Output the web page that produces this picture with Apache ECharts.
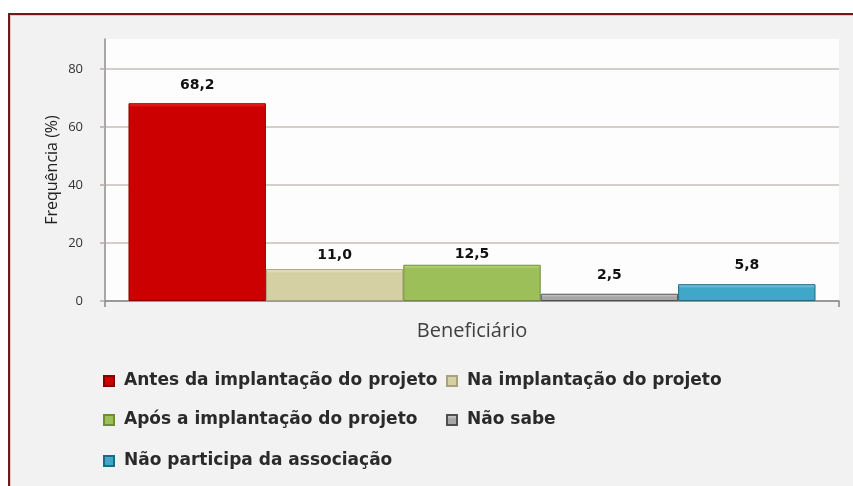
<!DOCTYPE html>
<html>
<head>
<meta charset="utf-8">
<title>Frequência - Beneficiário</title>
<script src="https://cdn.jsdelivr.net/npm/echarts@6/dist/echarts.min.js"></script>
<style>
  html, body { margin: 0; padding: 0; background: #ffffff; width: 853px; height: 486px; overflow: hidden; }
  #frame {
    position: absolute; left: 8px; top: 13px; width: 900px; height: 520px;
    background: #f2f2f2;
    border-left: 2px solid #6d1c1c; border-top: 2px solid #6d1c1c;
    box-shadow: inset 1px 1px 0 #e3c4c4;
  }
  #chart { position: absolute; left: 0; top: 0; width: 853px; height: 486px; }
</style>
</head>
<body>
<div id="frame"></div>
<div id="chart"></div>
<script>
// dados
const categories = ['Beneficiário']
const seriesNames = [
  'Antes da implantação do projeto',
  'Na implantação do projeto',
  'Após a implantação do projeto',
  'Não sabe',
  'Não participa da associação',
]
const seriesValues = [68.2, 11.0, 12.5, 2.5, 5.8]
const yTicks = [0, 20, 40, 60, 80]

// estilo
const font = 'Open Sans'
const wideFont = 'DejaVu Sans'
const colors = ['#cc0000', '#d5cfa4', '#9dbf5a', '#a6a6a6', '#3fa8c9']
const topColors = ['#ff3030', '#eeeacb', '#bfdb85', '#d9d9d9', '#86d3ec']
const edgeColors = ['#8a0000', '#a9a37d', '#6d8d37', '#4f4f4f', '#1c6a83']
const labelDistances = [11, 7, 3, 11, 12]
const legendPos = [[103, 371], [446, 371], [103, 410], [446, 410], [103, 451]]

const chart = echarts.init(document.getElementById('chart'))

const option = {
  animation: false,
  grid: [
    { left: 105, right: 14, top: 69, bottom: 185 },
    { left: 105, right: 14, top: 39, bottom: 185, show: true, backgroundColor: '#fdfdfd', borderWidth: 0, z: -1 },
  ],
  xAxis: [
    {
      type: 'category',
      gridIndex: 0,
      data: categories,
      axisLine: { lineStyle: { color: '#878787', width: 1.5 } },
      axisTick: { show: true, length: 6, lineStyle: { color: '#878787', width: 1.5 } },
      axisLabel: { fontFamily: font, fontSize: 20, color: '#404040', margin: 20 },
    },
    { type: 'category', gridIndex: 1, data: categories, show: false },
  ],
  yAxis: [
    {
      type: 'value',
      gridIndex: 0,
      min: yTicks[0],
      max: yTicks[yTicks.length - 1],
      interval: yTicks[1] - yTicks[0],
      axisLine: { show: false },
      axisTick: { show: true, length: 5, lineStyle: { color: '#b9a9a9', width: 1.5 } },
      splitLine: { lineStyle: { color: '#c9bcbc', width: 1.5 } },
      axisLabel: { fontFamily: font, fontSize: 13, color: '#333', margin: 22 },
    },
    {
      type: 'value',
      gridIndex: 1,
      min: 0,
      max: 1,
      axisLine: { show: true, lineStyle: { color: '#8c8c8c', width: 1.5 } },
      axisTick: { show: false },
      axisLabel: { show: false },
      splitLine: { show: false },
      name: 'Frequência (%)',
      nameLocation: 'middle',
      nameGap: 45,
      nameTextStyle: { fontFamily: font, fontSize: 16, color: '#222' },
    },
  ],
  legend: seriesNames.map((name, i) => ({
    data: [name],
    left: legendPos[i][0],
    top: legendPos[i][1],
    padding: 0,
    icon: 'rect',
    itemWidth: 10,
    itemHeight: 10,
    selectedMode: false,
    textStyle: { fontFamily: wideFont, fontSize: 17, fontWeight: 'bold', color: '#2a2a2a', padding: [0, 0, 0, 5], lineHeight: 20 },
  })),
  series: seriesNames.map((name, i) => {
    const hl = Math.min(0.45, 4 / (seriesValues[i] * 2.9))
    return {
      name,
      type: 'bar',
      xAxisIndex: 0,
      yAxisIndex: 0,
      data: [seriesValues[i]],
      barGap: '0%',
      barCategoryGap: '6.4%',
      itemStyle: {
        color: new echarts.graphic.LinearGradient(0, 0, 0, 1, [
          { offset: 0, color: topColors[i] },
          { offset: hl, color: colors[i] },
          { offset: 1, color: colors[i] },
        ]),
        borderColor: edgeColors[i],
        borderWidth: 1,
      },
      label: {
        show: true,
        position: 'top',
        distance: labelDistances[i],
        formatter: (p) => p.value.toFixed(1).replace('.', ','),
        fontFamily: wideFont,
        fontWeight: 'bold',
        fontSize: 14,
        color: '#111',
      },
    }
  }),
}

chart.setOption(option)
</script>
</body>
</html>
